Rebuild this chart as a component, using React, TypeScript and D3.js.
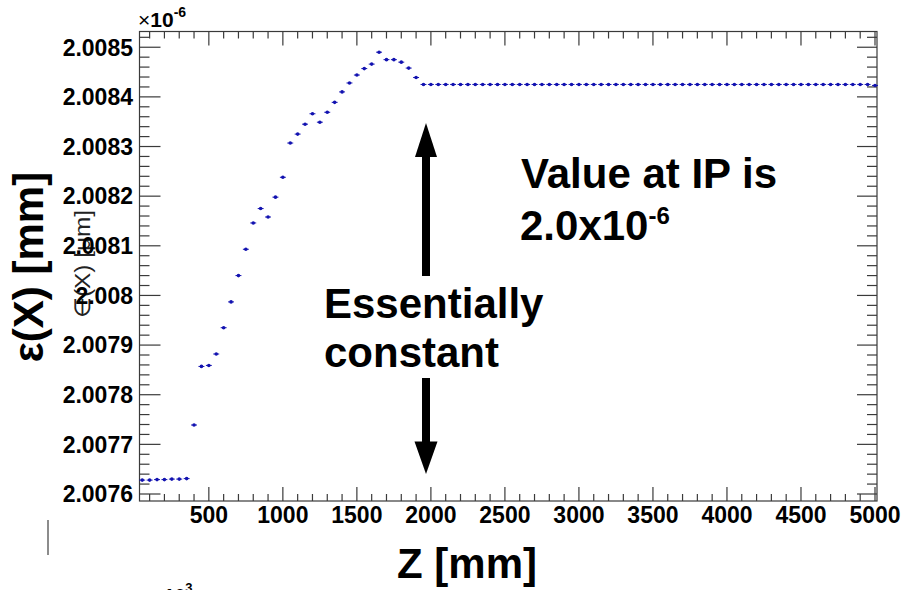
import React from "react";
import * as d3 from "d3";

// ---- data (values in units of 10^-6 mm) ----
const zValues: number[] = [
  50, 100, 150, 200, 250, 300, 350, 400, 450, 500,
  550, 600, 650, 700, 750, 800, 850, 900, 950, 1000,
  1050, 1100, 1150, 1200, 1250, 1300, 1350, 1400, 1450, 1500,
  1550, 1600, 1650, 1700, 1750, 1800, 1850, 1900, 1950, 2000,
  2050, 2100, 2150, 2200, 2250, 2300, 2350, 2400, 2450, 2500,
  2550, 2600, 2650, 2700, 2750, 2800, 2850, 2900, 2950, 3000,
  3050, 3100, 3150, 3200, 3250, 3300, 3350, 3400, 3450, 3500,
  3550, 3600, 3650, 3700, 3750, 3800, 3850, 3900, 3950, 4000,
  4050, 4100, 4150, 4200, 4250, 4300, 4350, 4400, 4450, 4500,
  4550, 4600, 4650, 4700, 4750, 4800, 4850, 4900, 4950, 5000,
];

const emittanceX: number[] = [
  2.007628, 2.007628, 2.007629, 2.007629, 2.00763, 2.00763, 2.007631, 2.007739, 2.007857, 2.007859,
  2.007882, 2.007935, 2.007987, 2.00804, 2.008093, 2.008146, 2.008175, 2.008158, 2.008198, 2.008238,
  2.008307, 2.008325, 2.008345, 2.008366, 2.008349, 2.008369, 2.008389, 2.00841, 2.008428, 2.008444,
  2.008457, 2.008466, 2.00849, 2.008475, 2.008475, 2.00847, 2.008458, 2.008439, 2.008425, 2.008425,
  2.008425, 2.008425, 2.008425, 2.008425, 2.008425, 2.008425, 2.008425, 2.008425, 2.008425, 2.008425,
  2.008425, 2.008425, 2.008425, 2.008425, 2.008425, 2.008425, 2.008425, 2.008425, 2.008425, 2.008425,
  2.008425, 2.008425, 2.008425, 2.008425, 2.008425, 2.008425, 2.008425, 2.008425, 2.008425, 2.008425,
  2.008425, 2.008425, 2.008425, 2.008425, 2.008425, 2.008425, 2.008425, 2.008425, 2.008425, 2.008425,
  2.008425, 2.008425, 2.008425, 2.008425, 2.008425, 2.008425, 2.008425, 2.008425, 2.008425, 2.008425,
  2.008425, 2.008425, 2.008425, 2.008425, 2.008425, 2.008425, 2.008425, 2.008425, 2.008425, 2.008423,
];

const zError: number[] = zValues.map(() => 20);

const xTickLabels: string[] = ["500", "1000", "1500", "2000", "2500", "3000", "3500", "4000", "4500", "5000"];
const yTickLabels: string[] = [
  "2.0076", "2.0077", "2.0078", "2.0079", "2.008", "2.0081", "2.0082", "2.0083", "2.0084", "2.0085",
];

const xDomain: [number, number] = [31.6, 5013.5];
const yDomain: [number, number] = [2.0075859, 2.0085317];

const FONT = "'Liberation Sans', Arial, Helvetica, sans-serif";

export default function App() {
  const W = 901;
  const H = 590;
  const L = 139.5;
  const R = 877;
  const T = 31.5;
  const B = 501;

  const x = d3.scaleLinear().domain(xDomain).range([L, R]);
  const y = d3.scaleLinear().domain(yDomain).range([B, T]);

  const xMajor = xTickLabels.map(Number);
  const xMinor = x.ticks(50).filter((t) => !xMajor.some((m) => Math.abs(m - t) < 1e-6));
  const yMajor = yTickLabels.map(Number);
  const yMinor = y.ticks(50).filter((t) => !yMajor.some((m) => Math.abs(m - t) < 1e-9));

  const axisColor = "#3a3a3a";
  const markColor = "#1212b0";

  return (
    <svg
      width={W}
      height={H}
      style={{ position: "absolute", left: 0, top: 0, background: "#fff" }}
      fontFamily={FONT}
    >
      <rect x={0} y={0} width={W} height={H} fill="#fff" />

      {/* original small y title, partly hidden */}
      <text
        transform="translate(90,264) rotate(-90)"
        textAnchor="middle"
        fontSize={22}
        textLength={108}
        lengthAdjust="spacingAndGlyphs"
        fill="#222"
      >
        ∈(X) [μm]
      </text>

      {/* frame */}
      <rect x={L} y={T} width={R - L} height={B - T} fill="none" stroke={axisColor} strokeWidth={1.2} />

      {/* x ticks bottom & top */}
      {xMajor.map((t) => (
        <g key={"xM" + t}>
          <line x1={x(t)} x2={x(t)} y1={B} y2={B - 14} stroke={axisColor} strokeWidth={1.2} />
          <line x1={x(t)} x2={x(t)} y1={T} y2={T + 14} stroke={axisColor} strokeWidth={1.2} />
        </g>
      ))}
      {xMinor.map((t) => (
        <g key={"xm" + t}>
          <line x1={x(t)} x2={x(t)} y1={B} y2={B - 7} stroke={axisColor} strokeWidth={1.2} />
          <line x1={x(t)} x2={x(t)} y1={T} y2={T + 7} stroke={axisColor} strokeWidth={1.2} />
        </g>
      ))}

      {/* y ticks left & right */}
      {yMajor.map((t) => (
        <g key={"yM" + t}>
          <line x1={L} x2={L + 21} y1={y(t)} y2={y(t)} stroke={axisColor} strokeWidth={1.2} />
          <line x1={R} x2={R - 20} y1={y(t)} y2={y(t)} stroke={axisColor} strokeWidth={1.2} />
        </g>
      ))}
      {yMinor.map((t) => (
        <g key={"ym" + t}>
          <line x1={L} x2={L + 10} y1={y(t)} y2={y(t)} stroke={axisColor} strokeWidth={1.2} />
          <line x1={R} x2={R - 10} y1={y(t)} y2={y(t)} stroke={axisColor} strokeWidth={1.2} />
        </g>
      ))}

      {/* tick labels */}
      {xTickLabels.map((lab) => (
        <text
          key={"xl" + lab}
          x={x(Number(lab))}
          y={523}
          textAnchor="middle"
          fontSize={23}
          fontWeight="bold"
          fill="#000"
        >
          {lab}
        </text>
      ))}
      {yTickLabels.map((lab) => (
        <text
          key={"yl" + lab}
          x={133}
          y={y(Number(lab))}
          dy="0.36em"
          textAnchor="end"
          fontSize={23}
          fontWeight="bold"
          fill="#000"
        >
          {lab}
        </text>
      ))}

      {/* exponent label */}
      <text x={138} y={27} fontSize={21} fill="#000">
        ×<tspan fontWeight="bold">10</tspan>
        <tspan dy={-10} fontSize={14} fontWeight="bold">
          -6
        </tspan>
      </text>

      {/* data points with horizontal error bars */}
      {zValues.map((z, i) => (
        <g key={"p" + z}>
          <line
            x1={x(z - zError[i])}
            x2={x(z + zError[i])}
            y1={y(emittanceX[i])}
            y2={y(emittanceX[i])}
            stroke={markColor}
            strokeWidth={1}
          />
          <circle cx={x(z)} cy={y(emittanceX[i])} r={1.8} fill={markColor} />
        </g>
      ))}

      {/* axis titles */}
      <text
        transform="translate(43,267) rotate(-90)"
        textAnchor="middle"
        fontSize={42}
        fontWeight="bold"
        fill="#000"
      >
        ε(X) [mm]
      </text>
      <text x={397} y={578} fontSize={42} fontWeight="bold" fill="#000">
        Z [mm]
      </text>

      {/* annotations */}
      <text x={521} y={188} fontSize={42} fontWeight="bold" fill="#000">
        Value at IP is
      </text>
      <text x={520} y={240} fontSize={42} fontWeight="bold" fill="#000">
        2.0x10
        <tspan dy={-16} fontSize={24}>
          -6
        </tspan>
      </text>
      <text x={324} y={318} fontSize={42} fontWeight="bold" fill="#000">
        Essentially
      </text>
      <text x={324} y={367} fontSize={42} fontWeight="bold" fill="#000">
        constant
      </text>

      {/* arrows */}
      <rect x={422} y={156} width={8} height={120} fill="#000" />
      <polygon points="415,157 437,157 426,123" fill="#000" />
      <rect x={422} y={378} width={8} height={64} fill="#000" />
      <polygon points="414.5,441.5 437.5,441.5 426,474" fill="#000" />

      {/* leftover fragments at the bottom-left */}
      <line x1={48} x2={48} y1={520} y2={555} stroke="#666" strokeWidth={1.5} />
      <text x={153} y={602} fontSize={19} fontWeight="bold" fill="#000">
        ×10
        <tspan dy={-10} fontSize={13}>
          3
        </tspan>
      </text>
    </svg>
  );
}
